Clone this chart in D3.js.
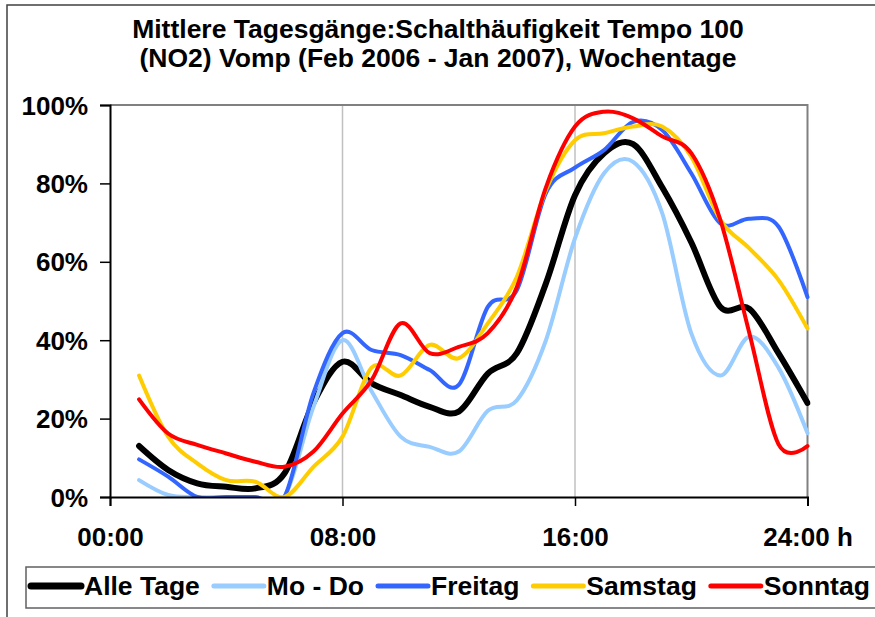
<html>
<head>
<script src="https://cdn.jsdelivr.net/npm/d3@7"></script>
<style>
  body { margin: 0; background: #fff; }
  text { font-family: "Liberation Sans", Arial, sans-serif; font-weight: bold; fill: #000; }
</style>
</head>
<body>
<svg width="875" height="617"></svg>
<script>
// hour of day for each point
const hours = [1, 2, 3, 4, 5, 6, 7, 8, 9, 10, 11, 12, 13, 14, 15, 16, 17, 18, 19, 20, 21, 22, 23, 24];

// switching frequency in %
const alleTage = [13, 6.9, 3.5, 2.6, 2.2, 6, 24, 34.5, 29, 26, 23, 21.8, 31.5, 36.7, 54.5, 77, 87.7, 90, 79, 65, 48.5, 48, 36.7, 24];
const moDo     = [4.3, 0.5, 0, 0, 0, 0, 23, 40, 27, 15.4, 12.8, 11.6, 22, 24.7, 40, 66, 82.6, 85.5, 72.4, 41.8, 31, 40.9, 33, 16.3];
const freitag  = [9.6, 5.2, 0, 0, 0, 0, 26.5, 41.8, 37.5, 36.2, 32.4, 28.6, 48.5, 52.8, 77.5, 84, 88.5, 95.7, 93.6, 82.6, 69.8, 71, 69, 51];
const samstag  = [31, 15.4, 8.6, 4.3, 3.9, 0, 7.7, 15.4, 33, 31, 38.8, 35.4, 44.3, 56.2, 78.3, 91, 92.8, 94.5, 94.5, 86.8, 70.7, 63.4, 55.4, 43];
const sonntag  = [24.9, 16.2, 13.3, 11.1, 9, 7.7, 11.6, 21.3, 29.8, 44.3, 36.7, 38.3, 41.8, 53.6, 79, 94.5, 98.3, 96.6, 92, 87.7, 70.7, 41.8, 13.5, 13];

const seriesNames = ["Alle Tage", "Mo - Do", "Freitag", "Samstag", "Sonntag"];
const seriesValues = [alleTage, moDo, freitag, samstag, sonntag];
const seriesColors = ["#000000", "#99ccff", "#3366ff", "#ffcc00", "#ff0000"];
const seriesWidths = [6, 4, 4, 4, 4];

const xTicks = [0, 8, 16, 24];
const xTickLabels = ["00:00", "08:00", "16:00", "24:00 h"];
const yTicks = [0, 20, 40, 60, 80, 100];

const titleLines = ["Mittlere Tagesgänge:Schalthäufigkeit Tempo 100", "(NO2) Vomp (Feb 2006 - Jan 2007), Wochentage"];

const svg = d3.select("svg");

// outer chart frame
svg.append("rect")
    .attr("x", 7).attr("y", 5)
    .attr("width", 900).attr("height", 700)
    .attr("fill", "#fff")
    .attr("stroke", "#404040")
    .attr("stroke-width", 1.5);

svg.append("g")
    .selectAll("text")
    .data(titleLines)
    .enter()
    .append("text")
    .attr("x", 438)
    .attr("y", (d, i) => 38 + i * 29)
    .attr("text-anchor", "middle")
    .style("font-size", "26.5px")
    .text(d => d);

const x = d3.scaleLinear().domain([0, 24]).range([110, 807.5]);
const y = d3.scaleLinear().domain([0, 100]).range([497, 105]);

// vertical grid lines
svg.append("g")
    .selectAll("line")
    .data([8, 16])
    .enter()
    .append("line")
    .attr("x1", d => x(d)).attr("x2", d => x(d))
    .attr("y1", y(100)).attr("y2", y(0))
    .attr("stroke", "#c0c0c0")
    .attr("stroke-width", 1.5);

// top and right frame of plot area
svg.append("path")
    .attr("d", `M${x(0)},${y(100)}H${x(24)}V${y(0)}`)
    .attr("fill", "none")
    .attr("stroke", "#808080")
    .attr("stroke-width", 2);

svg.append("clipPath").attr("id", "plot")
    .append("rect")
    .attr("x", x(0)).attr("y", y(100) - 4)
    .attr("width", x(24) - x(0) + 3).attr("height", y(0) - y(100) + 4);

const line = d3.line()
    .x((d, i) => x(hours[i]))
    .y(d => y(d))
    .curve(d3.curveCardinal.tension(0));

svg.append("g")
    .attr("clip-path", "url(#plot)")
    .selectAll("path")
    .data(seriesValues)
    .enter()
    .append("path")
    .attr("d", d => line(d))
    .attr("fill", "none")
    .attr("stroke", (d, i) => seriesColors[i])
    .attr("stroke-width", (d, i) => seriesWidths[i])
    .attr("stroke-linejoin", "round")
    .attr("stroke-linecap", "round");

// axes
const yAxis = svg.append("g")
    .attr("transform", `translate(${x(0)},0)`)
    .call(d3.axisLeft(y).tickValues(yTicks).tickSize(10).tickPadding(12).tickFormat(d => d + "%"));

const xAxis = svg.append("g")
    .attr("transform", `translate(0,${y(0)})`)
    .call(d3.axisBottom(x).tickValues(xTicks).tickSize(9).tickPadding(22).tickFormat((d, i) => xTickLabels[i]));

[yAxis, xAxis].forEach(g => {
    g.select(".domain").attr("stroke", "#000").attr("stroke-width", 2);
    g.selectAll(".tick line").attr("stroke", "#000").attr("stroke-width", 1.5);
    g.selectAll("text").style("font-size", "26px").attr("fill", "#000")
        .style("font-family", "'Liberation Sans', Arial, sans-serif");
});
yAxis.selectAll("text").attr("dy", "0.35em");

// legend
const legend = svg.append("g");
legend.append("rect")
    .attr("x", 26).attr("y", 567)
    .attr("width", 900).attr("height", 41)
    .attr("fill", "#fff")
    .attr("stroke", "#606060")
    .attr("stroke-width", 1.5);

let lx = 31;
seriesNames.forEach((name, i) => {
    legend.append("line")
        .attr("x1", lx).attr("x2", lx + 50)
        .attr("y1", 586).attr("y2", 586)
        .attr("stroke", seriesColors[i])
        .attr("stroke-width", seriesWidths[i] + 1)
        .attr("stroke-linecap", "round");
    const t = legend.append("text")
        .attr("x", lx + 53).attr("y", 595)
        .style("font-size", "26.5px")
        .text(name);
    lx += 53 + t.node().getComputedTextLength() + 14;
});
</script>
</body>
</html>
